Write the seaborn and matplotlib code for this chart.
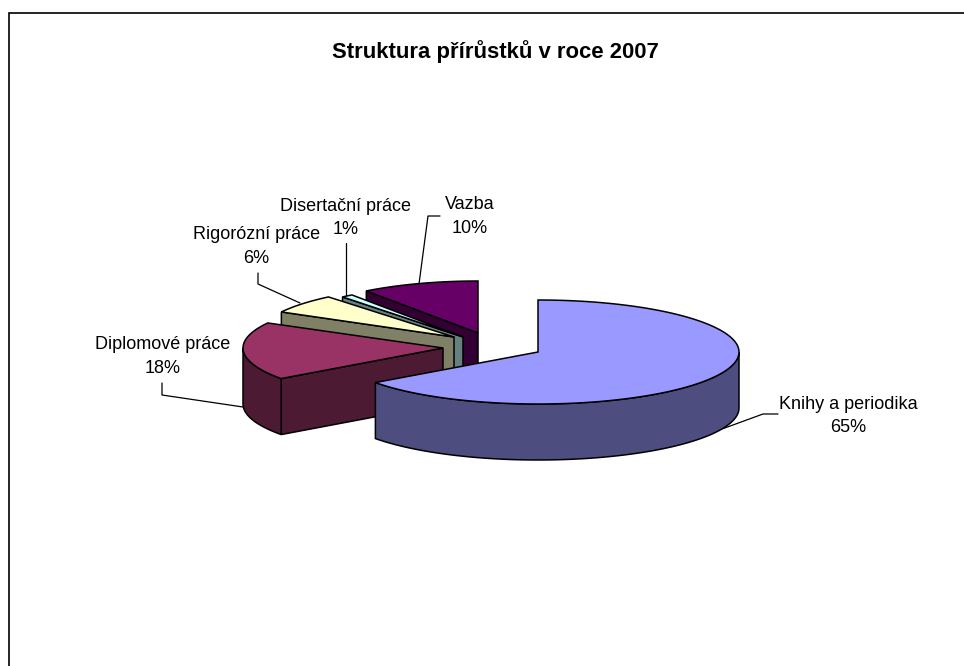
import numpy as np
import matplotlib
matplotlib.use("Agg")
import matplotlib.pyplot as plt
import seaborn as sns

# data
categories = ["Knihy a periodika", "Diplomové práce", "Rigorózní práce", "Disertační práce", "Vazba"]
shares = [65, 18, 6, 1, 10]
title = "Struktura přírůstků v roce 2007"
top_hex = ["#9999FF", "#993366", "#FFFFCC", "#CCFFFF", "#660066"]

# layout (figure pixels)
apex_x = [538, 443, 454, 463, 478]
apex_y = [352, 348, 337, 337, 333]
rad_x = [201, 200, 197, 189, 190]
rad_y = 52
depth = 56
label_xy = [(848.5, 416), (163, 356.5), (256.5, 246.5), (346, 218), (470, 216.5)]
leaders = [
    [(778, 414), (763, 414), (722, 429)],
    [(162, 383), (162, 395), (243, 407)],
    [(258, 273), (258, 284), (300, 303)],
    [(346, 243), (346, 295)],
    [(440, 216), (428, 216), (419, 284)],
]

sns.set_style("white")
plt.rcParams["font.family"] = ["Liberation Sans", "DejaVu Sans"]
palette = sns.color_palette(top_hex)
dark = [tuple(c * 0.5 for c in col) for col in palette]

fig, ax = plt.subplots(figsize=(9.64, 6.66), dpi=100)
ax.set_position([0, 0, 1, 1])
ax.set_xlim(0, 964)
ax.set_ylim(666, 0)
ax.axis("off")

# frame: only top and left edges fall inside the picture
ax.plot([9, 9, 964], [666, 12.5, 12.5], color="black", lw=1.2, solid_joinstyle="miter", zorder=1)

edges = np.cumsum([0] + shares) / sum(shares) * 2 * np.pi


def rim(i, a0, a1):
    t = np.linspace(a0, a1, max(2, int(abs(a1 - a0) * 60)))
    return np.column_stack([apex_x[i] + rad_x[i] * np.sin(t), apex_y[i] - rad_y * np.cos(t)])


kw = dict(edgecolor="black", linewidth=1.1, joinstyle="miter")
z = 2
# painted from the back slice to the front slice
for i in [4, 3, 2, 1, 0]:
    a0, a1 = edges[i], edges[i + 1]
    apex = np.array([[apex_x[i], apex_y[i]]])
    down = np.array([0, depth])
    # radial cut face seen at the slice's clockwise-start side (all but the big front slice)
    if i > 0:
        tip = rim(i, a0, a0 + 1e-6)[:1]
        face = np.vstack([tip, apex, apex + down, tip + down])
        ax.fill(face[:, 0], face[:, 1], facecolor=dark[i], zorder=z, **kw)
    # outer wall, front half of the ellipse only
    lo, hi = max(a0, np.pi / 2), min(a1, 3 * np.pi / 2)
    if lo < hi:
        r = rim(i, lo, hi)
        wall = np.vstack([r, (r + down)[::-1]])
        ax.fill(wall[:, 0], wall[:, 1], facecolor=dark[i], zorder=z, **kw)
    r = rim(i, a0, a1)
    poly = np.vstack([apex, r])
    ax.fill(poly[:, 0], poly[:, 1], facecolor=palette[i], zorder=z, **kw)
    z += 1

ax.text(495, 52, title, ha="center", va="center", fontsize=15.9, fontweight="bold", color="black", zorder=20)

for name, val, (lx, ly), pts in zip(categories, shares, label_xy, leaders):
    ax.text(lx, ly, f"{name}\n{val}%", ha="center", va="center", fontsize=13, linespacing=1.52,
            color="black", zorder=20)
    xs, ys = zip(*pts)
    ax.plot(xs, ys, color="black", lw=0.9, zorder=19)

fig.savefig("out.png", dpi=100)
